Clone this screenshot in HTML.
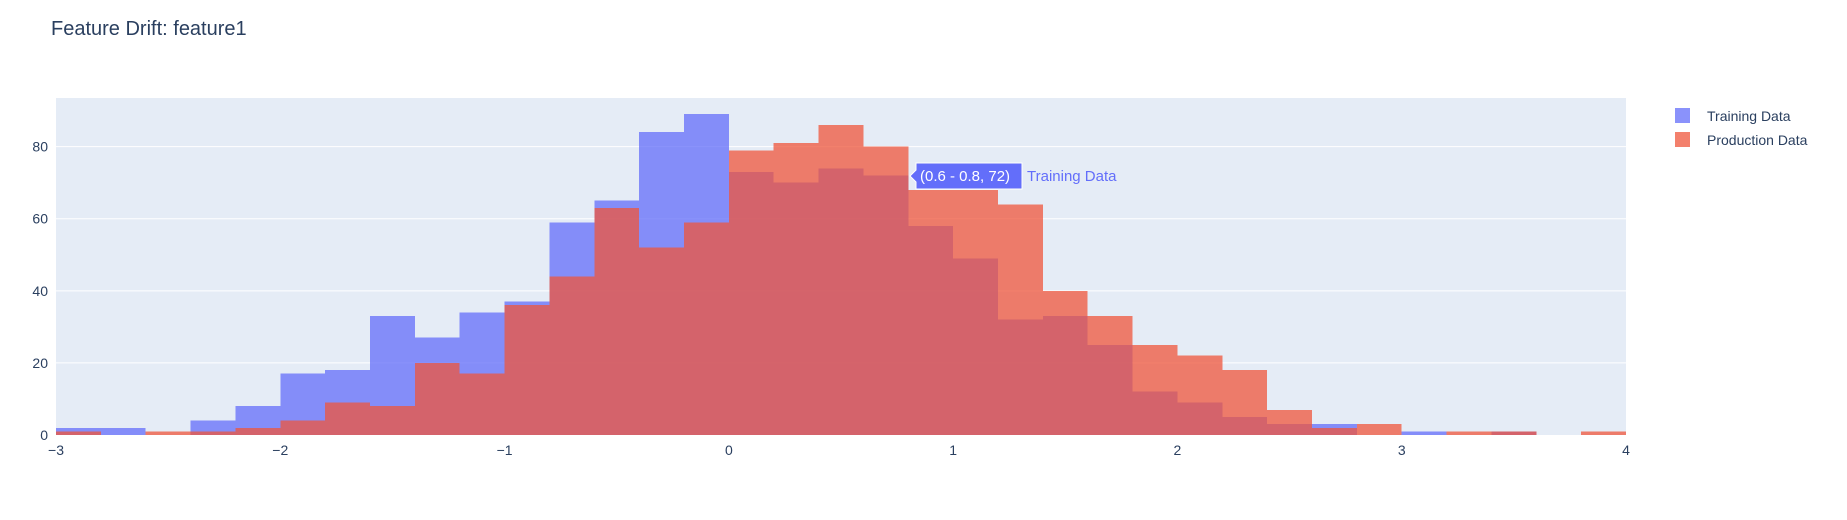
<!DOCTYPE html>
<html><head><meta charset="utf-8"><style>
body{margin:0;background:#fff;font-family:"Liberation Sans",sans-serif}
svg text{font-family:"Liberation Sans",sans-serif}
</style></head><body>
<svg id="chart" width="1847" height="515" xmlns="http://www.w3.org/2000/svg">
<rect width="1847" height="515" fill="#fff"/>
<text x="51" y="35" font-size="20" fill="#2a3f5f">Feature Drift: feature1</text>
<rect x="56" y="98" width="1570" height="337" fill="#e5ecf6"/>
<g id="grid"></g><g id="bars" shape-rendering="crispEdges"></g><g id="axes"></g>
<g>
<g><rect x="1675" y="108" width="15" height="15" fill="#636efa" opacity="0.75"/><text x="1707" y="121" font-size="14" fill="#2a3f5f">Training Data</text></g>
<g><rect x="1675" y="132" width="15" height="15" fill="#EF553B" opacity="0.75"/><text x="1707" y="145" font-size="14" fill="#2a3f5f">Production Data</text></g>
</g>
<g>
<path d="M916,163 L1022,163 L1022,189 L916,189 L916,182 L910,176 L916,170 Z" fill="#636efa" stroke="#fff" stroke-width="1"/>
<text x="920" y="181" font-size="15" fill="#fff">(0.6 - 0.8, 72)</text>
<text x="1027" y="181" font-size="15" fill="#636efa">Training Data</text>
</g>
</svg>
<script>
const binStarts=[-3,-2.8,-2.6,-2.4,-2.2,-2,-1.8,-1.6,-1.4,-1.2,-1,-0.8,-0.6,-0.4,-0.2,0,0.2,0.4,0.6,0.8,1,1.2,1.4,1.6,1.8,2,2.2,2.4,2.6,2.8,3,3.2,3.4,3.6,3.8];
const trainingCounts=[2,2,0,4,8,17,18,33,27,34,37,59,65,84,89,73,70,74,72,58,49,32,33,25,12,9,5,3,3,0,1,0,1,0,0];
const productionCounts=[1,0,1,1,2,4,9,8,20,17,36,44,63,52,59,79,81,86,80,68,68,64,40,33,25,22,18,7,2,3,0,1,1,0,1];
const xTicks=[-3,-2,-1,0,1,2,3,4];
const yTicks=[0,20,40,60,80];
const binWidth=0.2;
const X0=56,X1=1626,Y0=435,Y1=98;
const xs=v=>X0+(v+3)/7*(X1-X0);
const ys=v=>Y0-v/93.5*(Y0-Y1);
const NS="http://www.w3.org/2000/svg";
function mk(t,a,p){const e=document.createElementNS(NS,t);for(const k in a)e.setAttribute(k,a[k]);p.appendChild(e);return e;}
const grid=document.getElementById('grid'),bars=document.getElementById('bars'),axes=document.getElementById('axes');
yTicks.forEach(v=>{
 if(v>0){const l=mk('line',{x1:X0,x2:X1,y1:ys(v),y2:ys(v),stroke:'#fff','stroke-width':1},grid);
 
 }
 const t=mk('text',{x:X0-8,y:ys(v)+5,'font-size':14,fill:'#2a3f5f','text-anchor':'end'},axes);t.textContent=v;
 
 
});
xTicks.forEach(v=>{
 const t=mk('text',{x:xs(v),y:Y0+20,'font-size':14,fill:'#2a3f5f','text-anchor':'middle'},axes);t.textContent=(v<0?'\u2212'+(-v):v);
 
 
});
function series(counts,color,name){
 counts.forEach((c,i)=>{if(!c)return;const x=xs(binStarts[i]),w=xs(binStarts[i]+binWidth)-x;
 const r=mk('rect',{x:x,y:ys(c),width:w,height:Y0-ys(c),fill:color,opacity:0.75},bars);
 
 });
}
series(trainingCounts,'#636efa','training-bar');
series(productionCounts,'#EF553B','production-bar');
</script>
</body></html>
